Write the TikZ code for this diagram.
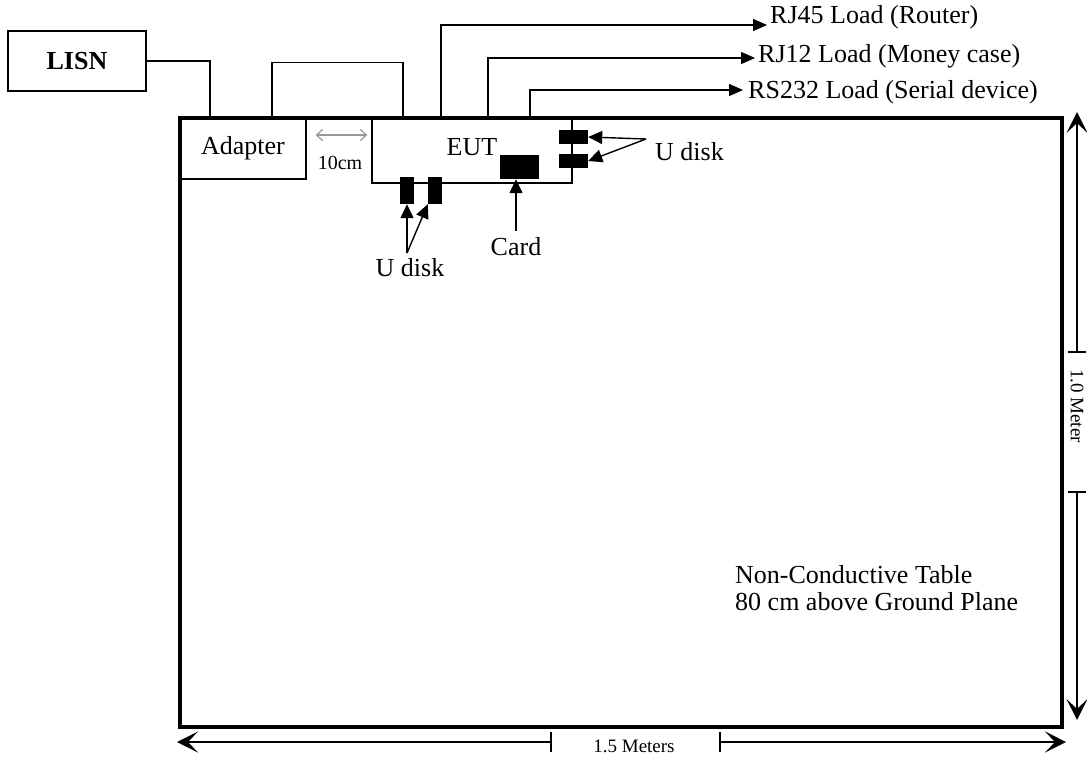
\documentclass[tikz,border=0pt]{standalone}
\usepackage{fontspec}
\setmainfont{Liberation Serif}
\usetikzlibrary{arrows.meta,positioning}
\definecolor{gapgray}{RGB}{150,150,150}

\tikzset{
  unitbox/.style={draw, line width=1.4pt, inner sep=0pt},
  cable/.style={line width=1.4pt},
  load/.style={cable, -{Triangle[length=14pt,width=12pt]}},
  pointer/.style={line width=1.4pt, -{Triangle[length=14pt,width=13pt]}},
  plug/.style={fill=black, inner sep=0pt},
  dimline/.style={line width=1.3pt},
  dimarrow/.style={dimline, -{Stealth[length=21pt,width=21pt,inset=10pt]}},
  bigtext/.style={font=\fontsize{26}{27}\selectfont, inner sep=0pt},
  smalltext/.style={font=\fontsize{19}{21}\selectfont, inner sep=0pt},
}

\begin{document}
\begin{tikzpicture}[x=1pt,y=-1pt]
\useasboundingbox (0,0) rectangle (1087,758);

\node[draw, line width=3.5pt, minimum width=882pt, minimum height=609pt, inner sep=0pt] (table) at (621,422.5) {};
\node[unitbox, bigtext, minimum width=138pt, minimum height=60pt] (lisn) at (77,61) {\bfseries LISN};
\node[unitbox, bigtext, minimum width=126pt, minimum height=61pt] (adapter) at (243,148.5) {Adapter};
\node[unitbox, bigtext, minimum width=200pt, minimum height=65pt, text depth=8pt] (eut) at (472,150.5) {EUT};

\draw[cable] (lisn.east) -| (adapter.north -| 210,0);
\draw[cable] (adapter.north -| 272,0) -- ++(0,-55) -| (eut.north -| 403,0);

\coordinate (rj45end) at (767,25);
\coordinate (rj12end) at (755,58);
\coordinate (rs232end) at (743,90);
\node[bigtext, anchor=base west] (rj45) at (770,23) {RJ45 Load (Router)};
\node[bigtext, anchor=base west] (rj12) at (758,62) {RJ12 Load (Money case)};
\node[bigtext, anchor=base west] (rs232) at (748,98) {RS232 Load (Serial device)};
\draw[load] (eut.north -| 441,0) |- (rj45end);
\draw[load] (eut.north -| 488,0) |- (rj12end);
\draw[load] (eut.north -| 530,0) |- (rs232end);

\draw[gapgray, line width=1.2pt, {Straight Barb[length=6pt,width=11pt]}-{Straight Barb[length=6pt,width=11pt]}, shorten <=9pt, shorten >=4pt] (adapter.east |- 0,135) -- (eut.west |- 0,135);
\node[bigtext, font=\fontsize{20}{22}\selectfont] (gaplbl) at (340,163) {10cm};

\node[plug, minimum width=14pt, minimum height=27pt] (udA) at (407,190.5) {};
\node[plug, minimum width=14pt, minimum height=27pt] (udB) at (435,190.5) {};
\node[plug, minimum width=39pt, minimum height=24pt] (card) at (519.5,167) {};
\node[plug, minimum width=29pt, minimum height=14pt] (udC) at (573.5,137) {};
\node[plug, minimum width=29pt, minimum height=14pt] (udD) at (573.5,161) {};

\node[bigtext] (udlow) at (410,268) {U disk};
\coordinate (udlowfork) at (407,253);
\draw[pointer] (udlowfork) -- (udA.south);
\draw[pointer] (udlowfork) -- (udB.south west);

\node[bigtext] (cardlbl) at (516,247) {Card};
\draw[pointer] ([yshift=7pt]cardlbl.north) -- (cardlbl.north |- card.south);

\node[bigtext, anchor=west] (udhigh) at (655,152) {U disk};
\coordinate (udhighfork) at (646,139);
\draw[pointer] (udhighfork) -- (udC.east);
\draw[pointer] (udhighfork) -- (udD.east);

\node[bigtext, anchor=west, align=left] (tablenote) at (735,588) {Non-Conductive Table\\80 cm above Ground Plane};

\coordinate (vtop) at (1077,112);
\coordinate (vtick1) at (1077,352);
\coordinate (vtick2) at (1077,492);
\coordinate (vbot) at (1077,720);
\draw[dimarrow] (vtick1) -- (vtop);
\draw[dimarrow] (vtick2) -- (vbot);
\draw[dimline] ([xshift=-9pt]vtick1) -- ([xshift=9pt]vtick1);
\draw[dimline] ([xshift=-9pt]vtick2) -- ([xshift=9pt]vtick2);
\node[smalltext, rotate=-90] (vlen) at (1077,406) {1.0 Meter};

\coordinate (hleft) at (177,742);
\coordinate (htick1) at (551,742);
\coordinate (htick2) at (720,742);
\coordinate (hright) at (1066,742);
\draw[dimarrow] (htick1) -- (hleft);
\draw[dimarrow] (htick2) -- (hright);
\draw[dimline] ([yshift=10pt]htick1) -- ([yshift=-10pt]htick1);
\draw[dimline] ([yshift=10pt]htick2) -- ([yshift=-10pt]htick2);
\node[smalltext] (hlen) at (634,746) {1.5 Meters};
\end{tikzpicture}
\end{document}
